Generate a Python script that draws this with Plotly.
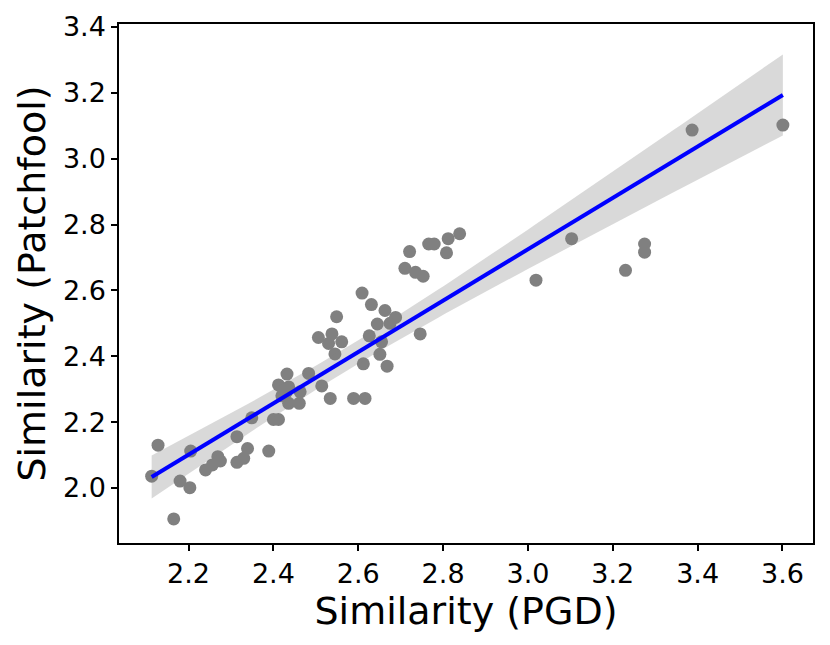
import numpy as np
import plotly.graph_objects as go

# similarity scores
sim_pgd = [2.113, 2.128, 2.180, 2.203, 2.165, 2.205, 2.240, 2.256, 2.269, 2.275,
           2.314, 2.314, 2.330, 2.339, 2.349, 2.389, 2.400, 2.412, 2.412, 2.420,
           2.430, 2.432, 2.436, 2.436, 2.463, 2.461, 2.483, 2.514, 2.506, 2.534,
           2.538, 2.530, 2.545, 2.549, 2.561, 2.589, 2.616, 2.609, 2.612, 2.626,
           2.631, 2.645, 2.651, 2.655, 2.663, 2.668, 2.675, 2.688, 2.710, 2.721,
           2.735, 2.753, 2.746, 2.766, 2.779, 2.808, 2.812, 2.839, 3.019, 3.103,
           3.230, 3.275, 3.275, 3.387, 3.601]
sim_patchfool = [2.036, 2.130, 2.021, 2.001, 1.906, 2.112, 2.055, 2.070, 2.095, 2.082,
                 2.156, 2.078, 2.090, 2.120, 2.213, 2.112, 2.208, 2.208, 2.313, 2.280,
                 2.290, 2.346, 2.307, 2.257, 2.292, 2.257, 2.348, 2.310, 2.457, 2.272,
                 2.468, 2.439, 2.407, 2.520, 2.444, 2.272, 2.272, 2.592, 2.377, 2.462,
                 2.557, 2.498, 2.406, 2.444, 2.539, 2.370, 2.500, 2.518, 2.667, 2.718,
                 2.655, 2.643, 2.468, 2.741, 2.741, 2.714, 2.757, 2.772, 2.631, 2.757,
                 2.661, 2.741, 2.716, 3.087, 3.102]

x_ticks = [2.2, 2.4, 2.6, 2.8, 3.0, 3.2, 3.4, 3.6]
y_ticks = [2.0, 2.2, 2.4, 2.6, 2.8, 3.0, 3.2, 3.4]

x = np.array(sim_pgd)
y = np.array(sim_patchfool)
n = len(x)

# linear fit + 95% confidence band of the mean
slope, icept = np.polyfit(x, y, 1)
grid = np.linspace(x.min(), x.max(), 100)
fit = slope * grid + icept
resid = y - (slope * x + icept)
s = np.sqrt(np.sum(resid ** 2) / (n - 2))
se = s * np.sqrt(1 / n + (grid - x.mean()) ** 2 / np.sum((x - x.mean()) ** 2))
t = 2.0
upper = fit + t * se * 1.3
lower = fit - t * se * 1.3

fig = go.Figure()
fig.add_trace(go.Scatter(x=x, y=y, mode='markers',
                         marker=dict(color='#808080', size=13, line=dict(width=0)),
                         showlegend=False))
fig.add_trace(go.Scatter(x=grid, y=upper, mode='lines', line=dict(width=0),
                         showlegend=False, hoverinfo='skip'))
fig.add_trace(go.Scatter(x=grid, y=lower, mode='lines', line=dict(width=0),
                         fill='tonexty', fillcolor='rgba(128,128,128,0.3)',
                         showlegend=False, hoverinfo='skip'))
fig.add_trace(go.Scatter(x=grid, y=fit, mode='lines',
                         line=dict(color='#0000ff', width=4), showlegend=False))

axis_style = dict(showgrid=False, zeroline=False, showline=True, linecolor='black',
                  linewidth=1.5, mirror=True, ticks='outside', ticklen=6, tickwidth=1.5,
                  tickcolor='black', tickfont=dict(size=27, color='black'),
                  automargin=False)

# page body has an 8px margin, so size/margins are shrunk by 8 to line up
fig.update_layout(
    width=822, height=637,
    margin=dict(l=111, r=17, t=16, b=102),
    plot_bgcolor='white', paper_bgcolor='white',
    font=dict(family='DejaVu Sans', color='black'),
    xaxis=dict(range=[2.036, 3.672], tickvals=x_ticks, tickformat='.1f',
               title=dict(text='Similarity (PGD)', font=dict(size=38), standoff=4),
               **axis_style),
    yaxis=dict(range=[1.833, 3.409], tickvals=y_ticks, tickformat='.1f',
               title=dict(text='Similarity (Patchfool)', font=dict(size=38), standoff=6),
               **axis_style),
)

fig.write_html("out.html")
